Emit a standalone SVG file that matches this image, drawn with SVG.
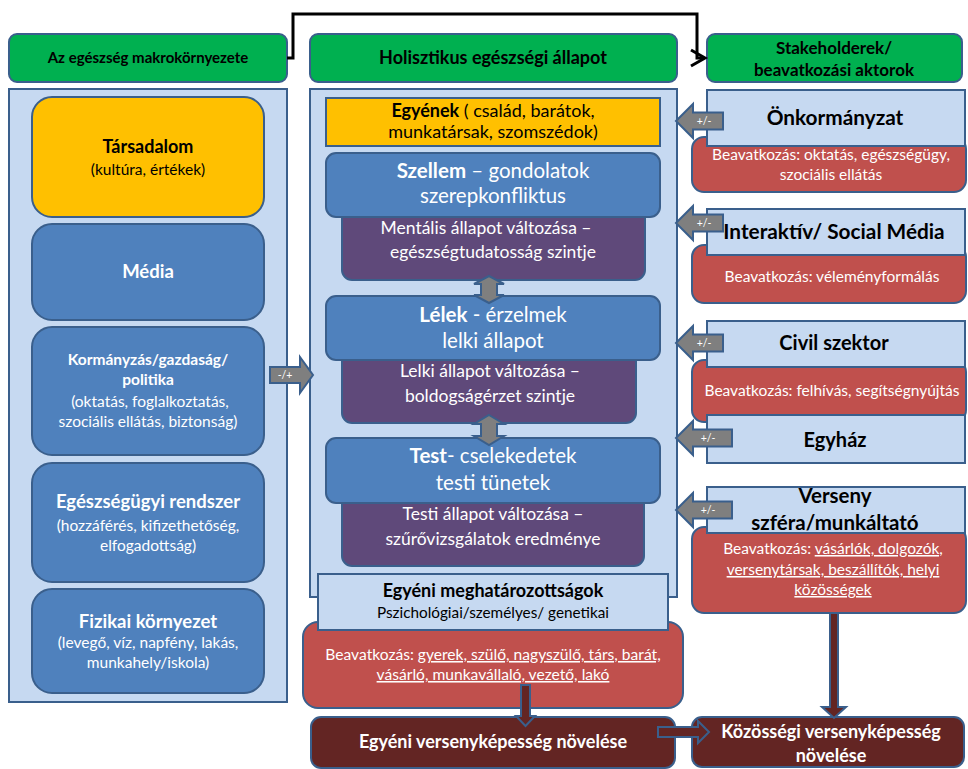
<svg xmlns="http://www.w3.org/2000/svg" width="968" height="769" viewBox="0 0 968 769">
<style>
text{font-family:Lato,"Liberation Sans","DejaVu Sans",sans-serif;text-anchor:middle}
.b{font-weight:bold}
.w{fill:#fff}
.k{fill:#000}
.s{stroke:#3A5F8C;stroke-width:2}
.gr{fill:#00B050}
.lb{fill:#C6D9F1}
.bl{fill:#4F81BD}
.go{fill:#FFC000}
.pu{fill:#5F497A}
.rd{fill:#C0504D}
.dr{fill:#632523}
.ga{fill:#7F7F7F}
.u{text-decoration:underline}
.lab{font-size:10.5px;fill:#fff}
.pt{font-size:17.5px}
.bt{font-size:20.5px}
.rt{font-size:15.5px}
</style>

<!-- headers -->
<g id="hdr-left"><rect class="gr s" x="9" y="34" width="278" height="48" rx="8"/><text class="b k" x="148" y="63" font-size="15">Az egészség makrokörnyezete</text></g>
<g id="hdr-mid"><rect class="gr s" x="310" y="34" width="367" height="48" rx="8"/><text class="b k" x="493" y="64" font-size="18">Holisztikus egészségi állapot</text></g>
<g id="hdr-right"><rect class="gr s" x="707" y="34" width="255" height="48" rx="8"/><text class="b k" x="834" y="54" font-size="17">Stakeholderek/</text><text class="b k" x="834" y="76" font-size="17">beavatkozási aktorok</text></g>

<!-- left column -->
<g id="left-col"><rect class="lb s" x="9" y="89" width="278" height="613"/></g>
<g id="tarsadalom"><rect class="go s" x="32" y="97" width="232" height="120" rx="20"/><text class="b k" x="148" y="153" font-size="18">Társadalom</text><text class="k" x="148" y="175" font-size="15.5">(kultúra, értékek)</text></g>
<g id="media"><rect class="bl s" x="32" y="224" width="232" height="96" rx="20"/><text class="b w" x="148" y="278" font-size="18.5">Média</text></g>
<g id="kormanyzas"><rect class="bl s" x="32" y="327" width="232" height="128" rx="20"/><text class="b w" x="148" y="365" font-size="15.5">Kormányzás/gazdaság/</text><text class="b w" x="148" y="385" font-size="15.5">politika</text><text class="w" x="150" y="407" font-size="15.5">(oktatás, foglalkoztatás,</text><text class="w" x="148" y="427" font-size="15.5">szociális ellátás, biztonság)</text></g>
<g id="egeszsegugy"><rect class="bl s" x="32" y="463" width="232" height="119" rx="20"/><text class="b w" x="148" y="508" font-size="18.5">Egészségügyi rendszer</text><text class="w" x="148" y="531" font-size="15.5">(hozzáférés, kifizethetőség,</text><text class="w" x="148" y="551" font-size="15.5">elfogadottság)</text></g>
<g id="fizikai"><rect class="bl s" x="32" y="589" width="232" height="104" rx="20"/><text class="b w" x="148" y="628" font-size="18.5">Fizikai környezet</text><text class="w" x="148" y="648" font-size="15.5">(levegő, víz, napfény, lakás,</text><text class="w" x="148" y="668" font-size="15.5">munkahely/iskola)</text></g>

<!-- middle column -->
<g id="mid-col"><rect class="lb s" x="310" y="89" width="367" height="508"/></g>
<g id="egyenek"><rect class="go s" x="326" y="98" width="334" height="48"/><text class="k" x="493" y="117" font-size="18"><tspan class="b">Egyének</tspan> ( család, barátok,</text><text class="k" x="493" y="138" font-size="18">munkatársak, szomszédok)</text></g>
<g id="mentalis"><rect class="pu s" x="342" y="205" width="303" height="75" rx="10"/><text class="w pt" x="486" y="234">Mentális állapot változása –</text><text class="w pt" x="493" y="258">egészségtudatosság szintje</text></g>
<g id="szellem"><rect class="bl s" x="326" y="153" width="334" height="64" rx="10"/><text class="w bt" x="493" y="178"><tspan class="b">Szellem</tspan> – gondolatok</text><text class="w bt" x="493" y="203">szerepkonfliktus</text></g>
<g id="lelki"><rect class="pu s" x="342" y="345" width="294" height="78" rx="10"/><text class="w pt" x="490" y="377">Lelki állapot változása –</text><text class="w pt" x="490" y="402">boldogságérzet szintje</text></g>
<g id="lelek"><rect class="bl s" x="326" y="296" width="334" height="64" rx="10"/><text class="w bt" x="493" y="322"><tspan class="b">Lélek</tspan> - érzelmek</text><text class="w bt" x="493" y="348">lelki  állapot</text></g>
<g id="testi"><rect class="pu s" x="342" y="490" width="302" height="76" rx="10"/><text class="w pt" x="493" y="520">Testi állapot változása –</text><text class="w pt" x="493" y="545">szűrővizsgálatok eredménye</text></g>
<g id="test"><rect class="bl s" x="326" y="438" width="334" height="65" rx="10"/><text class="w bt" x="493" y="463"><tspan class="b">Test</tspan>- cselekedetek</text><text class="w bt" x="493" y="490">testi tünetek</text></g>
<g id="mid-beavatkozas"><rect class="rd s" x="303" y="622" width="380" height="86" rx="15"/><text class="w" x="493" y="660" font-size="15.6">Beavatkozás: <tspan class="u">gyerek, szülő, nagyszülő, társ, barát,</tspan></text><text class="w u" x="493" y="680" font-size="15.6">vásárló, munkavállaló, vezető, lakó</text></g>
<g id="meghatarozottsagok"><rect class="lb s" x="318" y="574" width="350" height="56"/><text class="b k" x="493" y="597" font-size="18">Egyéni meghatározottságok</text><text class="k" x="493" y="618" font-size="15.3">Pszichológiai/személyes/ genetikai</text></g>
<g id="egyeni-verseny"><rect class="dr s" x="311" y="717" width="364" height="51" rx="10"/><text class="b w" x="493" y="748" font-size="18">Egyéni versenyképesség növelése</text></g>

<!-- right column -->
<g id="onkormanyzat"><rect class="rd s" x="692" y="137" width="274" height="55" rx="12"/><text class="w rt" x="831" y="160">Beavatkozás: oktatás, egészségügy,</text><text class="w rt" x="831" y="180">szociális ellátás</text><rect class="lb s" x="707" y="90" width="258" height="56"/><text class="b k" x="835" y="125" font-size="20.8">Önkormányzat</text></g>
<g id="interaktiv"><rect class="rd s" x="692" y="245" width="274" height="58" rx="12"/><text class="w rt" x="832" y="282">Beavatkozás: véleményformálás</text><rect class="lb s" x="707" y="209" width="258" height="46"/><text class="b k" x="834" y="239" font-size="20.8">Interaktív/ Social Média</text></g>
<g id="civil"><rect class="rd s" x="692" y="360" width="274" height="62" rx="12"/><text class="w rt" x="832" y="396">Beavatkozás: felhívás, segítségnyújtás</text><rect class="lb s" x="707" y="321" width="258" height="46"/><text class="b k" x="834" y="350" font-size="20">Civil szektor</text></g>
<g id="egyhaz"><rect class="lb s" x="707" y="415" width="258" height="48"/><text class="b k" x="835" y="447" font-size="20">Egyház</text></g>
<g id="verseny"><rect class="rd s" x="692" y="527" width="274" height="86" rx="12"/><text class="w rt" x="833" y="554">Beavatkozás: <tspan class="u">vásárlók, dolgozók,</tspan></text><text class="w u rt" x="833" y="575">versenytársak, beszállítók, helyi</text><text class="w u rt" x="833" y="595">közösségek</text><rect class="lb s" x="707" y="487" width="258" height="46"/><text class="b k" x="835" y="503" font-size="20.5">Verseny</text><text class="b k" x="835" y="530" font-size="20.5">szféra/munkáltató</text></g>
<g id="kozossegi"><rect class="dr s" x="692" y="717" width="272" height="50" rx="10"/><text class="b w" x="831" y="738" font-size="18">Közösségi versenyképesség</text><text class="b w" x="831" y="762" font-size="18">növelése</text></g>

<!-- connectors -->
<g id="connectors">
<path d="M287,58 H293 V14 H697 V58 H704" fill="none" stroke="#000" stroke-width="3"/>
<path d="M691,50 L705,58 L691,66" fill="none" stroke="#000" stroke-width="3"/>
<path class="ga s" d="M489,276 L504,284 H497 V295 H504 L489,303 L474,295 H481 V284 H474 Z"/>
<path class="ga s" d="M489,415 L504,424 H497 V436 H504 L489,445 L474,436 H481 V424 H474 Z"/>
<path class="ga s" d="M270,367 H300 V357 L313,375 L300,393 V383 H270 Z"/>
<text class="lab" x="285" y="379">-/+</text>
<path class="ga s" d="M676,121 L693,104 V112.5 H723 V129.5 H693 V138 Z"/>
<text class="lab" x="704" y="125">+/-</text>
<path class="ga s" d="M676,223 L693,206 V214.5 H723 V231.5 H693 V240 Z"/>
<text class="lab" x="704" y="227">+/-</text>
<path class="ga s" d="M676,343 L693,326 V334.5 H723 V351.5 H693 V360 Z"/>
<text class="lab" x="704" y="347">+/-</text>
<path class="ga s" d="M676,438 L693,421 V429.5 H732 V446.5 H693 V455 Z"/>
<text class="lab" x="708" y="442">+/-</text>
<path class="ga s" d="M676,510 L693,493 V501.5 H732 V518.5 H693 V527 Z"/>
<text class="lab" x="708" y="514">+/-</text>
<path class="dr s" d="M521,685 H530 V716 H535 L525.5,726 L516,716 H521 Z"/>
<path class="dr s" d="M830,613 H838 V707 H846 L834,718 L822,707 H830 Z"/>
<path class="dr s" d="M658,727 H698 V721 L709,732 L698,743 V737 H658 Z"/>
</g>
</svg>
